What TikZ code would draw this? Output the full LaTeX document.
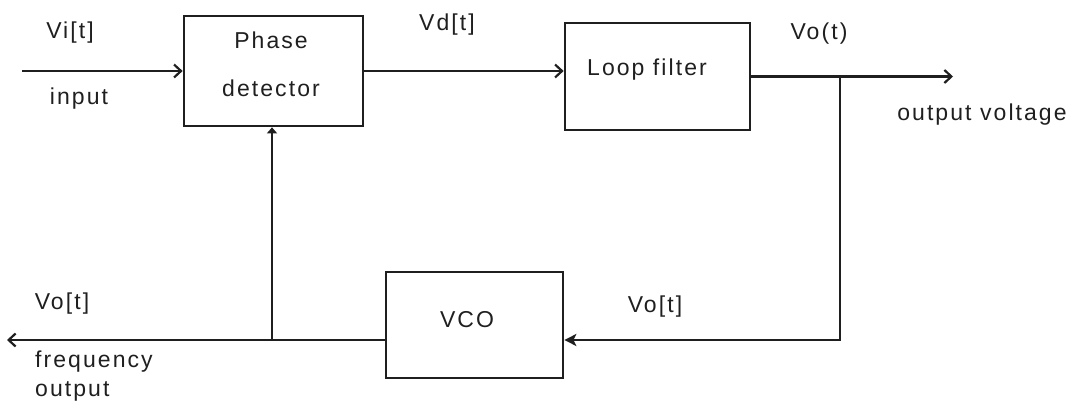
\documentclass[tikz,border=0pt]{standalone}
\usepackage{fontspec}
\setmainfont{Liberation Sans}[LetterSpace=9]
\usetikzlibrary{arrows.meta}
\begin{document}
\begin{tikzpicture}[x=1pt,y=-1pt,
  blockbox/.style={draw=black!88,line width=2.7pt,rectangle,inner sep=0pt},
  lbl/.style={inner sep=0pt,font=\fontsize{23}{48}\selectfont,text=black!88,align=center},
  wire/.style={draw=black!88,line width=2.5pt},
  barb/.style={-{Straight Barb[length=7pt,width=13pt,line width=2.2pt]}},
  tri/.style={-{Triangle[length=6pt,width=10pt]}},
  stl/.style={-{Stealth[length=12pt,width=12pt,inset=3pt]}}]
\useasboundingbox (0,0) rectangle (1081,409);
% blocks
\node[blockbox,minimum width=179pt,minimum height=110pt] (pd) at (273.5,71) {};
\node[blockbox,minimum width=185pt,minimum height=107pt] (lf) at (657.5,76.5) {};
\node[blockbox,minimum width=177pt,minimum height=106pt] (vco) at (474.5,325) {};
% block texts
\node[lbl] (pdtext) at (271,64) {Phase\\detector};
\node[lbl] (lftext) at (647,70) {Loop filter};
\node[lbl] (vcotext) at (467,320) {VCO};
% coordinates
\coordinate (inL) at (22,71);
\coordinate (outR) at (953,76.5);
\coordinate (j) at (840,76.5);
\coordinate (c) at (840,340);
\coordinate (fb) at (272,340);
\coordinate (outL) at (7,340);
% connectors
\draw[wire,barb] (inL) -- (inL -| pd.west);
\draw[wire,barb] (pd.east) -- (pd.east -| lf.west);
\draw[wire,barb] (lf.east) -- (outR);
\draw[wire,stl] (j) -- (c) -- (vco.east |- c);
\draw[wire,barb] (vco.west |- c) -- (outL);
\draw[wire,tri] (fb) -- (fb |- pd.south);
% labels
\node[lbl] (lvi) at (70,33) {Vi[t]};
\node[lbl] (lin) at (79,99) {input};
\node[lbl] (lvd) at (447,25) {Vd[t]};
\node[lbl] (lvo1) at (819,34) {Vo(t)};
\node[lbl] (lov) at (982,115) {output voltage};
\node[lbl] (lvo2) at (655,307) {Vo[t]};
\node[lbl] (lvo3) at (62,304) {Vo[t]};
\node[lbl,anchor=west] (lfr) at (35,362) {frequency};
\node[lbl,anchor=west] (lfo) at (35,391) {output};
\end{tikzpicture}
\end{document}
